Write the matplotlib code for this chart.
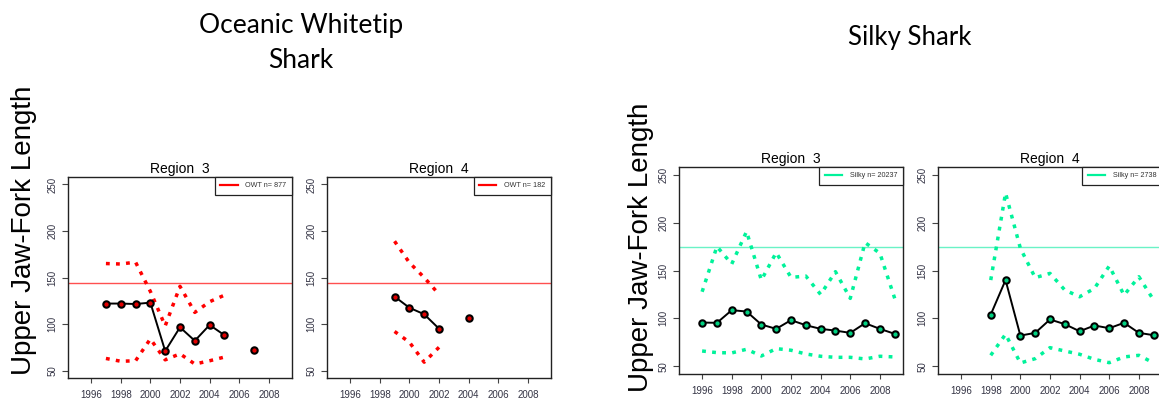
import numpy as np
import matplotlib
matplotlib.use("Agg")
import matplotlib.pyplot as plt

nan = np.nan

# ---------------- data ----------------
owt_r3_years = [1997, 1998, 1999, 2000, 2001, 2002, 2003, 2004, 2005, 2006, 2007]
owt_r3_mean = [122, 122, 121.5, 123, 71, 96.5, 82, 99, 88, nan, 72.5]
owt_r3_upper = [165, 164.5, 166.5, 135, 98, 140.5, 112.5, 124, 131, nan, nan]
owt_r3_lower = [63, 60, 60.5, 84, 61.5, 68, 57, 60.5, 64.5, nan, nan]

owt_r4_years = [1999, 2000, 2001, 2002, 2003, 2004]
owt_r4_mean = [129.5, 117.5, 110.5, 95, nan, 106]
owt_r4_upper = [189, 166, 150, 132, nan, nan]
owt_r4_lower = [92, 80.5, 59, 75, nan, nan]

silky_r3_years = list(range(1996, 2010))
silky_r3_mean = [95.7, 95.4, 108.6, 107.2, 93.6, 89.1, 98.2, 92.9, 89.1, 87.3, 84.9, 95, 89.1, 83.9]
silky_r3_upper = [127.8, 175, 156.8, 190.7, 140, 168.7, 142.8, 144.2, 125, 148.8, 120.9, 179.1, 168, 120.9]
silky_r3_lower = [66, 64.3, 64, 67.8, 60.8, 68.5, 66.8, 62.9, 60.5, 59.4, 59.4, 57.7, 60.5, 59.8]

silky_r4_years = list(range(1998, 2010))
silky_r4_mean = [104, 140, 82.1, 84.9, 98.9, 94, 86.6, 92.6, 89.8, 95.4, 84.9, 82.5]
silky_r4_upper = [140, 230.8, 173.2, 142.5, 147, 129.6, 122.6, 131.3, 154.7, 124.3, 143.5, 119]
silky_r4_lower = [61.5, 83.5, 53.5, 58, 69.5, 66, 62.6, 57.3, 53.8, 59.8, 61.5, 53.5]

owt_ref = 144
silky_ref = 175

panel_titles = ["Region  3", "Region  4"]
owt_labels = ["OWT n= 877", "OWT n= 182"]
silky_labels = ["Silky n= 20237", "Silky n= 2738"]
species_titles = ["Oceanic Whitetip\nShark", "Silky Shark"]
ylabel = "Upper Jaw-Fork Length"
xticks = [1996, 1998, 2000, 2002, 2004, 2006, 2008]
yticks = [50, 100, 150, 200, 250]

# ---------------- styling ----------------
W, H = 1159, 405
fig = plt.figure(figsize=(W / 100, H / 100), dpi=100)
plt.rcParams['font.family'] = ['Liberation Sans', 'DejaVu Sans']


def axes_px(x0, y0, x1, y1):
    return fig.add_axes([x0 / W, 1 - y1 / H, (x1 - x0) / W, (y1 - y0) / H])


def panel(ax, years, mean, upper, lower, ref, col, refcol, fill, title, label):
    ax.set_xlim(1994.44, 2009.56)
    ax.set_ylim(42, 258)
    ax.axhline(ref, color=refcol, lw=1.0, zorder=1)
    ax.plot(years, upper, color=col, lw=2.5, dashes=(1.1, 1.8), zorder=2)
    ax.plot(years, lower, color=col, lw=2.5, dashes=(1.1, 1.8), zorder=2)
    ax.plot(years, mean, color='black', lw=1.4, marker='o', ms=4.6,
            mfc=fill, mec='black', mew=1.5, zorder=3)
    ax.set_xticks(xticks)
    ax.set_yticks(yticks)
    ax.tick_params(axis='x', labelsize=7, length=3.5, pad=5,
                   labelcolor='#333344', color='#444444')
    ax.tick_params(axis='y', labelsize=7, length=4.5, pad=3,
                   labelcolor='#333344', color='#444444')
    for lab in ax.get_yticklabels():
        lab.set_rotation(90)
        lab.set_va('center')
    for s in ax.spines.values():
        s.set_linewidth(1.0)
        s.set_color('#222222')
    ax.set_title(title, fontsize=10, pad=3)
    h, = ax.plot([], [], color=col, lw=1.6)
    leg = ax.legend([h], [label], loc='upper right', borderaxespad=0,
                    fancybox=False, edgecolor='#222222', framealpha=1,
                    fontsize=5.2, handlelength=2.4, handletextpad=1.1,
                    borderpad=0.75, labelcolor='#333333')
    leg.get_frame().set_linewidth(0.9)


red = '#FF0000'
red_ref = '#FF5050'
green = '#00F29A'
green_ref = '#6AF2C6'

ax1 = axes_px(68, 177, 292, 378)
panel(ax1, owt_r3_years, owt_r3_mean, owt_r3_upper, owt_r3_lower, owt_ref,
      red, red_ref, '#E00000', panel_titles[0], owt_labels[0])
ax2 = axes_px(327, 177, 551, 378)
panel(ax2, owt_r4_years, owt_r4_mean, owt_r4_upper, owt_r4_lower, owt_ref,
      red, red_ref, '#E00000', panel_titles[1], owt_labels[1])
ax3 = axes_px(679, 167, 903, 374)
panel(ax3, silky_r3_years, silky_r3_mean, silky_r3_upper, silky_r3_lower, silky_ref,
      green, green_ref, '#00D080', panel_titles[0], silky_labels[0])
ax4 = axes_px(938, 167, 1162, 374)
panel(ax4, silky_r4_years, silky_r4_mean, silky_r4_upper, silky_r4_lower, silky_ref,
      green, green_ref, '#00D080', panel_titles[1], silky_labels[1])

# species titles
fig.text(301 / W, 1 - 43 / H, species_titles[0], ha='center', va='center',
         fontsize=19, family=['Lato', 'DejaVu Sans'], linespacing=1.5)
fig.text(910 / W, 1 - 37 / H, species_titles[1], ha='center', va='center',
         fontsize=18.5, family=['Lato', 'DejaVu Sans'])

# y labels
fig.text(24 / W, 1 - 230 / H, ylabel, rotation=90, ha='center', va='center', fontsize=20)
fig.text(641 / W, 1 - 247 / H, ylabel, rotation=90, ha='center', va='center', fontsize=20)

fig.savefig("out.png", dpi=100)
